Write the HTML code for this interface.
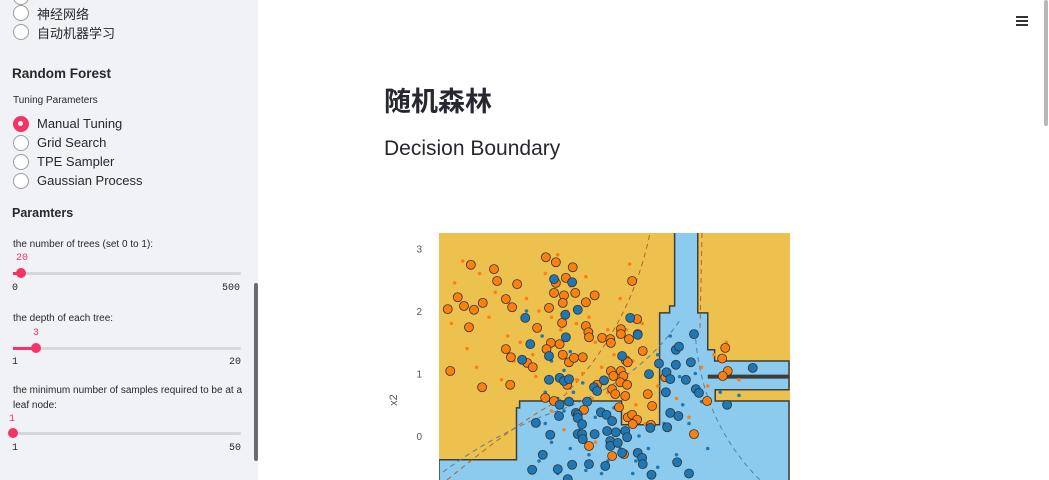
<!DOCTYPE html>
<html><head><meta charset="utf-8">
<style>
*{margin:0;padding:0;box-sizing:border-box}
body{width:1049px;height:480px;overflow:hidden;background:#fff;font-family:"Liberation Sans","Noto Sans CJK SC",sans-serif;position:relative;color:#262730}
#side{position:absolute;left:0;top:0;width:258px;height:480px;background:#f0f2f6}
.t{position:absolute;white-space:nowrap}
.radio{position:absolute;left:13px;width:16px;height:16px;border:1.5px solid #9a9ca3;border-radius:50%;background:#fff}
.radio.on{background:#f63366;border-color:#f63366}
.radio.on::after{content:"";position:absolute;left:4px;top:4px;width:5px;height:5px;border-radius:50%;background:#fff}
.rl{position:absolute;left:37px;font-size:13px;color:#262730}
.lab{position:absolute;left:13px;font-size:10px;color:#262730;white-space:nowrap}
.mono{font-family:"Liberation Mono",monospace;font-size:10px;position:absolute}
.track{position:absolute;left:13px;width:228px;height:3px;background:#d5d7de;border-radius:2px}
.fill{position:absolute;height:3px;background:#f63366;left:13px}
.thumb{position:absolute;width:10px;height:10px;border-radius:50%;background:#f63366}
</style></head><body>
<div id="side">
  <div class="radio" style="top:-11px"></div>
  <div class="radio" style="top:5px"></div>
  <div class="rl" style="top:4px">神经网络</div>
  <div class="radio" style="top:24px"></div>
  <div class="rl" style="top:23px">自动机器学习</div>
  <div class="t" style="left:12px;top:66px;font-size:13.5px;font-weight:bold">Random Forest</div>
  <div class="lab" style="top:95px">Tuning Parameters</div>
  <div class="radio on" style="top:116px"></div>
  <div class="rl" style="top:116px">Manual Tuning</div>
  <div class="radio" style="top:135px"></div>
  <div class="rl" style="top:135px">Grid Search</div>
  <div class="radio" style="top:154px"></div>
  <div class="rl" style="top:154px">TPE Sampler</div>
  <div class="radio" style="top:173px"></div>
  <div class="rl" style="top:173px">Gaussian Process</div>
  <div class="t" style="left:12px;top:206px;font-size:12.5px;font-weight:bold">Paramters</div>

  <div class="lab" style="top:239px">the number of trees (set 0 to 1):</div>
  <div class="mono" style="left:16px;top:253px;color:#f63366">20</div>
  <div class="track" style="top:272px"></div>
  <div class="fill" style="top:272px;width:8px"></div>
  <div class="thumb" style="left:16px;top:268px"></div>
  <div class="mono" style="left:12px;top:283px">0</div>
  <div class="mono" style="left:222px;top:283px">500</div>

  <div class="lab" style="top:313px">the depth of each tree:</div>
  <div class="mono" style="left:33px;top:328px;color:#f63366">3</div>
  <div class="track" style="top:347px"></div>
  <div class="fill" style="top:347px;width:23px"></div>
  <div class="thumb" style="left:31px;top:343px"></div>
  <div class="mono" style="left:12px;top:357px">1</div>
  <div class="mono" style="left:229px;top:357px">20</div>

  <div class="lab" style="top:385px">the minimum number of samples required to be at a</div>
  <div class="lab" style="top:400px">leaf node:</div>
  <div class="mono" style="left:9px;top:414px;color:#f63366">1</div>
  <div class="track" style="top:432px"></div>
  <div class="thumb" style="left:8px;top:428px"></div>
  <div class="mono" style="left:12px;top:443px">1</div>
  <div class="mono" style="left:229px;top:443px">50</div>

  <div style="position:absolute;left:254px;top:283px;width:4px;height:178px;background:#6b6b6b;border-radius:2px"></div>
</div>

<div style="position:absolute;left:1016px;top:16px;width:12px">
  <div style="height:1.5px;background:#333;margin-bottom:2.5px"></div><div style="height:1.5px;background:#333;margin-bottom:2.5px"></div><div style="height:1.5px;background:#333"></div>
</div>
<div style="position:absolute;left:1044px;top:0;width:4px;height:126px;background:#b8b8b8;border-radius:2px"></div>

<div class="t" style="left:384px;top:80px;font-size:27px;font-weight:bold;color:#262730">随机森林</div>
<div class="t" style="left:384px;top:137px;font-size:21px;color:#262730">Decision Boundary</div>

<svg id="chart" style="position:absolute;left:0;top:0" width="1049" height="480"></svg>

<script>
const yTicks=[0,1,2,3];
const yTickLabels=["0","1","2","3"];
const blueRegion=[[-1.5,-0.38],[-0.26,-0.38],[-0.26,0.45],[-0.21,0.45],[-0.21,0.56],[1.42,0.56],[1.42,0.18],[2.03,0.18],[2.03,1.97],[2.19,1.97],[2.19,2.08],[2.27,2.08],[2.27,3.3],[2.64,3.3],[2.64,1.97],[2.8,1.97],[2.8,1.38],[2.91,1.38],[2.91,1.2],[4.1,1.2],[4.1,0.74],[2.92,0.74],[2.92,0.56],[4.1,0.56],[4.1,-1],[-1.5,-1]];
const darkLine=[[2.8,0.95],[4.1,0.95]];
const bigOrangeX=[-1.36,-1.32,-0.99,-1.2,-1.1,-0.94,-1.02,-0.8,-0.62,-0.57,-0.43,-0.33,-0.25,-0.81,-0.43,-0.35,-0.36,-0.09,0,0.07,0.21,0.37,0.64,0.53,0.37,0.34,0.5,0.48,0.68,0.85,0.99,0.26,0.47,0.29,0.43,0.48,0.22,0.58,0.66,0.8,0.85,0.89,0.9,1.11,1.24,1.25,1.41,1.41,1.54,1.68,1.67,1.59,1.76,1.49,1.52,1.25,1.41,1.29,1.45,1.4,1.51,1.27,1.32,1.48,0.55,1.03,0.2,0.34,0.82,1.38,1.52,1.59,1.67,1.6,1.89,1.84,1.91,2.12,3.08,3.03,3.12,3.04,2.79,2.58,0.9,1.27,1.46];
const bigOrangeY=[2.03,1.04,2.74,2.22,2.08,2.02,1.74,2.13,2.67,2.48,2.19,2.06,2.43,0.78,1.39,1.26,0.82,1.17,1.1,1.73,2.86,2.78,2.7,2.53,2.45,2.29,2.25,2.13,2.29,2.14,2.25,2.05,1.81,1.49,1.47,1.3,1.39,1.18,1.25,1.26,1.76,1.66,1.58,1.57,1.55,1.49,1.71,1.63,1.55,1.63,1.87,2.48,1.36,1.21,1.18,1.04,1.04,0.96,0.96,0.86,0.82,0.75,0.67,0.64,0.82,0.82,0.61,0.56,0.42,0.46,0.3,0.34,0.26,0.19,0.18,0.67,0.48,0.94,1.41,1.24,1.04,0.96,0.56,0.03,-0.16,-0.32,-0.29];
const bigBlueX=[-0.12,-0.04,-0.17,0.26,0.34,0.63,0.52,0.72,0.53,1.56,1.68,1.43,0.26,0.43,0.5,0.58,0.98,1.03,1.14,1.86,2.02,2.14,2.2,2.29,2.34,2.29,2.53,2.58,2.45,2.61,2.66,2.13,3.52,3.11,2.2,2.33,2.15,0.43,0.58,0.87,0.42,0.69,0.72,0.72,0.79,0.05,0.28,0.72,0.79,0.8,0.99,1.09,1.18,1.27,1.19,1.33,1.48,1.51,1.24,1.24,1.36,1.43,1.68,1.75,1.76,1.88,2.31,0.16,-0.01,0.4,0.63,0.9,1.16,0.56,1.9,2.5];
const bigBlueY=[1.89,1.47,1.22,1.28,2.51,2.46,1.94,2.02,1.58,1.89,1.62,1.28,0.9,0.93,0.88,0.91,0.78,0.72,0.89,0.99,1.16,1.02,0.91,1.38,1.43,1.14,1.18,1.63,0.9,0.75,0.69,0.7,1.09,0.5,0.37,0.32,0.14,0.5,0.55,0.55,0.32,0.37,0.34,0.29,0.19,0.21,0.02,0.03,0.03,-0.05,0.03,0.38,0.34,0.24,0.08,0.06,0.08,-0.02,-0.08,-0.16,-0.11,-0.27,-0.27,-0.35,-0.45,0.13,-0.42,-0.3,-0.54,-0.53,-0.46,-0.45,-0.48,-0.69,-0.62,-0.6];
const smallOrangeX=[-1.25,-1.12,-0.85,-1.3,-1.05,-0.7,-0.6,-0.4,-0.2,0,0.1,0.3,0.45,0.55,0.7,0.9,1,1.2,1.3,1.5,1.6,1.75,0.2,0.4,0.6,-0.1,0.8,1.1,1.2,0.7,0.95,1.65,1.8,2,2.3,2.5,2.9,3.1,3.3,2.8,-0.5,-0.9,0.3,0.5,1,2.2,2.7,1.4,1.55,0.85,-0.3,0.05];
const smallOrangeY=[2.45,2.8,2.6,1.8,1.4,1.9,2.3,1.6,1.5,1.3,2,1.9,1.7,2,1.8,1.9,1.5,1.7,1.3,1.7,1.2,1.8,2.6,2.9,2.4,2.2,1,1.1,0.7,0.9,0.6,0.5,0.2,0.8,0.6,0.3,1.3,1.5,0.9,0.8,0.9,1.1,0.4,0.1,-0.1,0.1,1.1,2.2,2.75,2.55,1.2,0.95];
const smallBlueX=[-0.1,0.15,0.3,0.5,0.65,0.8,0.2,0.4,1,1.3,1.5,1.7,1.9,2,2.2,2.4,2.5,2.6,2.8,2.3,2,1.6,1.2,0.9,0.6,0.3,0.1,0.2,0.5,0.75,1.1,1.4,1.85,2.1,2.35,2.7,3,3.3,0.45,0,0.6,1.25,1.45,1.65,0.4,0.85];
const smallBlueY=[2,1.6,1.2,1.05,0.7,0.85,0.7,0.6,0.3,0.45,0.1,0,0.5,1.3,1.6,0.5,0.2,1,-0.2,-0.3,-0.5,-0.6,-0.4,-0.3,-0.2,-0.1,-0.4,0.2,0.4,0.1,-0.6,-0.2,-0.2,0.2,0.95,0.55,0.7,0.65,1.45,1.1,1.35,1,0.6,-0.4,-0.6,-0.55];

const X0=439,X1=790,Y0=233,Y1=480,PX=62.5;
function sx(v){return X0+(v+1.5)*PX;}
function sy(v){return 436-v*PX;}
const NS="http://www.w3.org/2000/svg";
const svg=document.getElementById('chart');
function mk(tag,attrs,parent){const e=document.createElementNS(NS,tag);for(const k in attrs)e.setAttribute(k,attrs[k]);(parent||svg).appendChild(e);return e;}
const defs=mk('defs',{});
const cp=mk('clipPath',{id:'pc'},defs);
mk('rect',{x:X0,y:Y0,width:X1-X0,height:Y1-Y0},cp);
const g=mk('g',{'clip-path':'url(#pc)'});
const bg=mk('rect',{x:X0,y:Y0,width:X1-X0,height:Y1-Y0,fill:'#edc14d'},g);


const bp=mk('polygon',{points:blueRegion.map(p=>sx(p[0])+','+sy(p[1])).join(' '),fill:'#8ccbee',stroke:'#3d3d3d','stroke-width':1.5},g);


const dl=mk('line',{x1:sx(darkLine[0][0]),y1:sy(darkLine[0][1]),x2:sx(darkLine[1][0]),y2:sy(darkLine[1][1]),stroke:'#3d3d3d','stroke-width':4},g);


const d1=mk('path',{d:'M447 480 Q520 420 560 400 Q630 330 650 233',fill:'none',stroke:'#b5652c','stroke-width':1,'stroke-dasharray':'5,4'},g);


const d2=mk('path',{d:'M702 233 L700 330',fill:'none',stroke:'#b5652c','stroke-width':1,'stroke-dasharray':'5,4'},g);


const d3=mk('path',{d:'M443 472 Q500 430 560 410 Q640 380 680 320 M695 330 Q700 420 760 480',fill:'none',stroke:'#5a7fa3','stroke-width':1,'stroke-dasharray':'5,4'},g);


smallOrangeX.forEach((v,i)=>{const c=mk('circle',{cx:sx(v),cy:sy(smallOrangeY[i]),r:1.8,fill:'#ff7f0e'},g);

});
smallBlueX.forEach((v,i)=>{const c=mk('circle',{cx:sx(v),cy:sy(smallBlueY[i]),r:1.8,fill:'#1f77b4'},g);

});
bigOrangeX.forEach((v,i)=>{const c=mk('circle',{cx:sx(v),cy:sy(bigOrangeY[i]),r:4.5,fill:'#ff7f0e',stroke:'#333','stroke-width':0.8},g);

});
bigBlueX.forEach((v,i)=>{const c=mk('circle',{cx:sx(v),cy:sy(bigBlueY[i]),r:4.5,fill:'#1f77b4',stroke:'#333','stroke-width':0.8},g);

});
yTicks.forEach((v,i)=>{const t=mk('text',{x:422,y:sy(v)+4,'text-anchor':'end','font-size':10,fill:'#555','font-family':'Liberation Sans, sans-serif'});t.textContent=yTickLabels[i];

});
const yl=mk('text',{x:397,y:400,'text-anchor':'middle','font-size':11,fill:'#555','font-family':'Liberation Sans, sans-serif',transform:'rotate(-90 397 400)'});yl.textContent='x2';


</script>
</body></html>
